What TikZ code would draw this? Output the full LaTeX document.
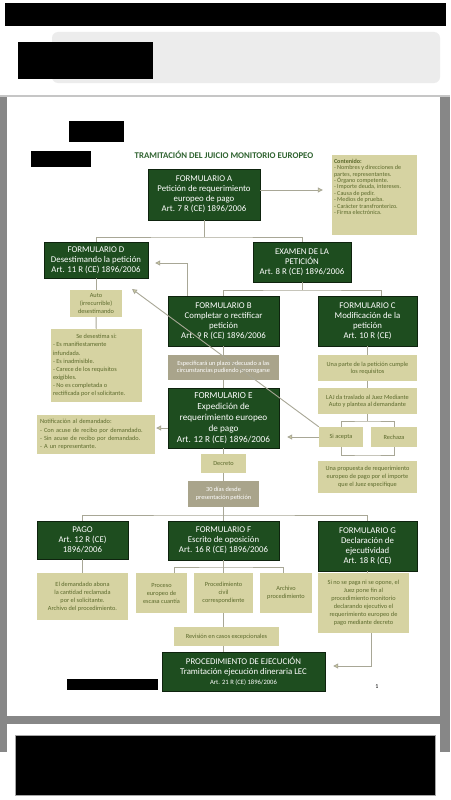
\documentclass[tikz,border=0pt]{standalone}
\usepackage{fontspec}
\setmainfont{Carlito}
\usetikzlibrary{arrows.meta,shadows,calc}
\definecolor{dkgreen}{HTML}{1E4D1F}
\definecolor{khaki}{HTML}{D6D3A2}
\definecolor{taupe}{HTML}{A9A48B}
\definecolor{olivetxt}{HTML}{5C6A2C}
\definecolor{linec}{HTML}{A8A796}
\definecolor{framegray}{HTML}{878787}
\definecolor{titlegreen}{HTML}{2F6330}
\begin{document}
\begin{tikzpicture}[x=1pt,y=-1pt,
  box/.style={rectangle, inner sep=1pt, align=center},
  wh/.style n args={2}{minimum width=#1pt, minimum height=#2pt},
  gbox/.style={box, fill=dkgreen, draw=black!55!dkgreen, line width=0.4pt, text=white,
     font=\fontsize{8.8}{10}\selectfont,
     drop shadow={shadow xshift=1.3pt, shadow yshift=-1.3pt, fill=black!50, opacity=0.6}},
  kbox/.style={box, fill=khaki, text=olivetxt, font=\fontsize{6.3}{7.6}\selectfont},
  tbox/.style={box, fill=taupe, text=white, font=\fontsize{6.3}{7.4}\selectfont},
  ln/.style={draw=linec, line width=0.9pt},
  arr/.style={ln, -{Triangle[length=5pt,width=5pt,fill=khaki]}},
  blk/.style={fill=black}
]
\useasboundingbox (0,0) rectangle (450,800);
% ---- page frame ----
\fill[white] (0,0) rectangle (450,800);
\fill[blk] (5,3) rectangle (446,26);
\fill[gray!15, rounded corners=6pt] (52,32) rectangle (440,83);
\fill[blk] (18,42) rectangle (153,79);
\fill[framegray] (0,95) rectangle (450,752);
\fill[gray!45] (0,95) rectangle (450,97);
\fill[white] (7,97) rectangle (440,716);
\fill[white] (7,724) rectangle (440,752);
\filldraw[blk, draw=gray!70, line width=0.5pt] (15,735) rectangle (435,795);
% redacted blocks on page
\fill[blk] (69,121) rectangle (124,142);
\fill[blk] (31,151) rectangle (91,167);
\fill[blk] (67,679) rectangle (158,690);

% ---- title ----
\node[font=\bfseries\fontsize{8.8}{10}\selectfont, text=titlegreen] (title) at (224,155) {TRAMITACIÓN DEL JUICIO MONITORIO EUROPEO};

% ---- nodes ----
\node[gbox, wh={112}{51}] (A) at (204,194.5) {FORMULARIO A\\Petición de requerimiento\\europeo de pago\\Art. 7 R (CE) 1896/2006};
\node[kbox, inner sep=2pt] (Cont) at (374.5,195) {\begin{minipage}[c][76pt][t]{81pt}\raggedright\fontsize{6.1}{6.4}\selectfont\vspace*{2pt}%
\textbf{Contenido:}\\- Nombres y direcciones de\\partes, representantes.\\- Órgano competente.\\- Importe deuda, intereses.\\- Causa de pedir.\\- Medios de prueba.\\- Carácter transfronterizo.\\- Firma electrónica.\end{minipage}};

\node[gbox, wh={104}{36}] (D) at (96,260) {FORMULARIO D\\Desestimando la petición\\Art. 11 R (CE) 1896/2006};
\node[gbox, wh={98}{40}] (Ex) at (302,262) {EXAMEN DE LA\\PETICIÓN\\Art. 8 R (CE) 1896/2006};

\node[kbox, wh={52}{27}] (Auto) at (96,303.5) {Auto\\(irrecurrible)\\desestimando};
\node[kbox, inner sep=2pt] (Des) at (96.5,365.5) {\begin{minipage}[c][69pt][c]{87pt}\fontsize{6.3}{8.1}\selectfont
{\centering Se desestima si:\par}\raggedright
- Es manifiestamente\\infundada.\\- Es inadmisible.\\- Carece de los requisitos\\exigibles.\\- No es completada o\\rectificada por el solicitante.\end{minipage}};

\node[gbox, wh={111}{50}] (B) at (223.5,321) {FORMULARIO B\\Completar o rectificar\\petición\\Art. 9 R (CE) 1896/2006};
\node[gbox, wh={99}{50}] (C) at (367.5,321) {FORMULARIO C\\Modificación de la\\petición\\Art. 10 R (CE)};

\node[tbox, wh={111}{25}] (Esp) at (223.5,367.5) {Especificará un plazo adecuado a las\\circunstancias pudiendo prorrogarse};
\node[gbox, wh={111}{60}, font=\fontsize{9.2}{11}\selectfont] (E) at (223.5,418) {FORMULARIO E\\Expedición de\\requerimiento europeo\\de pago\\Art. 12 R (CE) 1896/2006};

\node[kbox, wh={99}{26}, font=\fontsize{6.3}{7.2}\selectfont] (Cum) at (367.5,368) {Una parte de la petición cumple\\los requisitos};
\node[kbox, wh={99}{26}, font=\fontsize{6.3}{7.2}\selectfont] (LAJ) at (367.5,401) {LAJ da traslado al Juez Mediante\\Auto y plantea al demandante};
\node[kbox, wh={44}{20}] (Si) at (341,437) {Si acepta};
\node[kbox, wh={46}{20}] (Rech) at (394,437) {Rechaza};
\node[kbox, wh={99}{32}, font=\fontsize{6.3}{8.2}\selectfont] (Prop) at (367.5,477) {Una propuesta de requerimiento\\europeo de pago por el importe\\que el Juez especifique};

\node[kbox, align=left, text width=112pt, inner xsep=3pt, minimum height=39pt, font=\fontsize{6.3}{8.3}\selectfont] (Not) at (96,434.5) {Notificación al demandado:\\- Con acuse de recibo por demandado.\\- Sin acuse de recibo por demandado.\\- A un representante.};

\node[kbox, wh={45}{19}] (Dec) at (223.5,463.5) {Decreto};
\node[tbox, wh={71}{26}, font=\fontsize{6.3}{8}\selectfont] (T30) at (223.5,494) {30 días desde\\presentación petición};

\node[gbox, wh={91}{38}] (Pago) at (82.5,540) {PAGO\\Art. 12 R (CE)\\1896/2006};
\node[gbox, wh={111}{39}] (F) at (223.5,540.5) {FORMULARIO F\\Escrito de oposición\\Art. 16 R (CE) 1896/2006};
\node[gbox, wh={99}{50}] (G) at (367.5,546) {FORMULARIO G\\Declaración de\\ejecutividad\\Art. 18 R (CE)};

\node[kbox, wh={91}{47}, font=\fontsize{6.3}{8}\selectfont] (PagoS) at (82.5,596.5) {El demandado abona\\la cantidad reclamada\\por el solicitante.\\Archivo del procedimiento.};
\node[kbox, wh={51}{40}, font=\fontsize{6.3}{8}\selectfont] (Proc) at (161.5,593) {Proceso\\europeo de\\escasa cuantía};
\node[kbox, wh={59}{40}, font=\fontsize{6.3}{8}\selectfont] (Civ) at (223.5,593) {Procedimiento\\civil\\correspondiente};
\node[kbox, wh={52}{40}, font=\fontsize{6.3}{8}\selectfont] (Arch) at (286,593) {Archivo\\procedimiento};
\node[kbox, wh={91}{60}, font=\fontsize{6.3}{8}\selectfont] (GS) at (363.5,603) {Si no se paga ni se opone, el\\Juez pone fin al\\procedimiento monitorio\\declarando ejecutivo el\\requerimiento europeo de\\pago mediante decreto};

\node[kbox, wh={105}{19}] (Rev) at (226.5,636.5) {Revisión en casos excepcionales};
\node[gbox, wh={163}{39}] (Ej) at (243.5,671.5) {PROCEDIMIENTO DE EJECUCIÓN\\Tramitación ejecución dineraria LEC\\{\fontsize{6.6}{8}\selectfont Art. 21 R (CE) 1896/2006}};

\node[font=\fontsize{6}{7}\selectfont] (pn) at (377,687) {1};

% ---- junctions ----
\coordinate (jA) at (204,237);
\coordinate (jEx) at (302,290);
\coordinate (jL) at (367.5,421);
\coordinate (jSR) at (367.5,455);
\coordinate (j30) at (223.5,515);
\coordinate (jF) at (223.5,567);
\coordinate (diagEnd) at (132,289);

% ---- connectors ----
\draw[arr, shorten >=9pt] (A.east |- 0,190) -- (Cont.west |- 0,190);
\draw[ln] (A.south) -- (jA);
\draw[ln] (D.north) |- (jA) -| (Ex.north);
\draw[ln] (Ex.south) -- (jEx);
\draw[ln] (B.north) |- (jEx) -| ($(C.north)+(13.5,0)$);
\draw[arr, shorten >=7pt] ($(B.north west)+(20,0)$) |- ($(D.east)+(0,3)$);
\draw[ln] (D) -- (Auto);
\draw[ln] (Auto) -- (Des);
\draw[ln] (B) -- (Esp);
\draw[ln] (Esp) -- (E);
\draw[arr, shorten >=1pt] (E.west |- 0,428) -- (Not.east |- 0,428);
\draw[ln] (C) -- (Cum);
\draw[ln] (Cum) -- (LAJ);
\draw[ln] (LAJ) -- (jL);
\draw[ln] (Si.north) |- (jL) -| (Rech.north);
\draw[ln] (Si.south) |- (jSR) -| (Rech.south);
\draw[arr, shorten >=8pt] (Si.west) -- (Si.west -| E.east);
\draw[ln] (E) -- (Dec);
\draw[ln] (Dec) -- (T30);
\draw[ln] (T30) -- (j30);
\draw[ln] (Pago.north) |- (j30) -| (G.north);
\draw[ln] (j30) -- (F);
\draw[ln] (Pago) -- (PagoS);
\draw[ln] (F) -- (jF);
\draw[ln] ($(Proc.north)+(12.5,0)$) |- (jF) -| ($(Arch.north)+(-3,0)$);
\draw[ln] (jF) -- (Civ);
\draw[ln] (G.south) -- (G.south |- GS.north);
\draw[ln] (Civ.south) -- (Civ.south |- Rev.north);
\draw[ln] (Civ.south |- Rev.south) -- (Civ.south |- Ej.north);
\draw[arr, shorten >=8pt] ($(GS.south)+(7.5,0)$) |- (Ej.east |- 0,666);
\draw[arr] (Si.north west) -- (diagEnd);
\end{tikzpicture}
\end{document}
